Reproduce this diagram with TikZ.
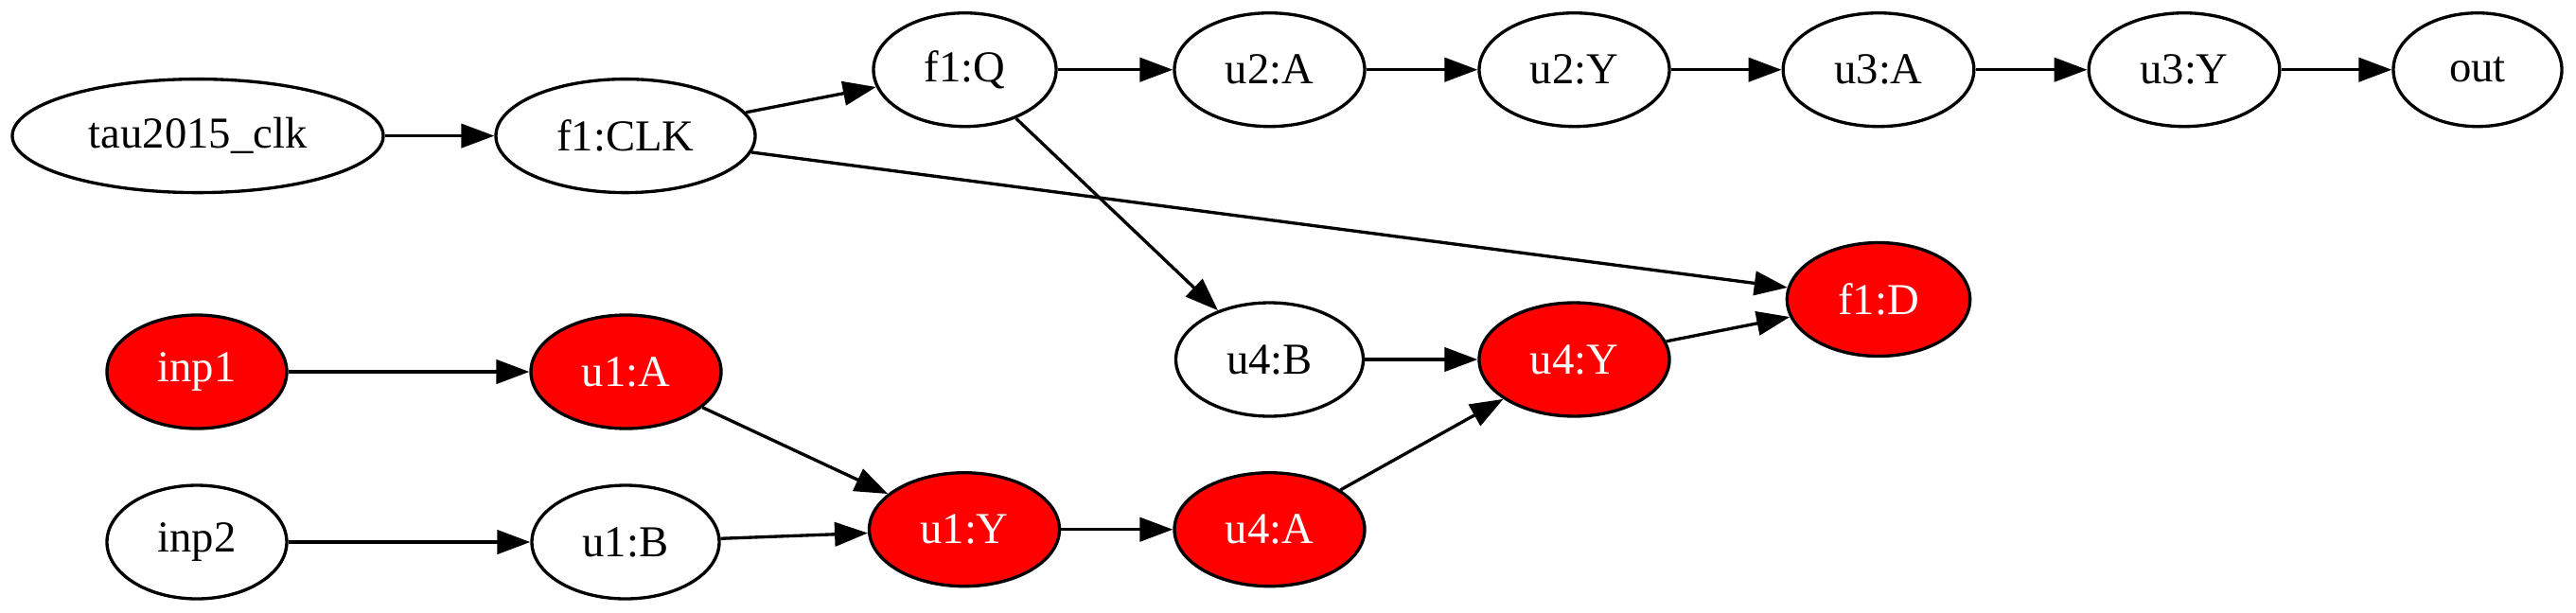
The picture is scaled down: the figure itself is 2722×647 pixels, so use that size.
\documentclass[tikz,border=0pt]{standalone}
\usepackage{fontspec}
\setmainfont{Liberation Serif}
\usetikzlibrary{shapes.geometric,arrows.meta}
\begin{document}
\begin{tikzpicture}[x=0.3pt,y=-0.3pt,
  gnode/.style={ellipse,draw=black,line width=1pt,inner sep=0pt,minimum height=36pt,font=\fontsize{14pt}{16pt}\selectfont},
  rednode/.style={gnode,fill=red,text=white},
  edge/.style={line width=1pt,-{Triangle[length=10.5pt,width=7.6pt]}}]
\useasboundingbox (0,0) rectangle (2722,647);
\node[gnode,minimum width=117.6pt] (tau) at (209,143.6) {tau2015\_clk};
\node[gnode,minimum width=82.2pt] (f1clk) at (661,143.6) {f1:CLK};
\node[gnode,minimum width=57.9pt] (f1q) at (1019.5,73.7) {f1:Q};
\node[gnode,minimum width=60.3pt] (u2a) at (1341.5,73.7) {u2:A};
\node[gnode,minimum width=60.3pt] (u2y) at (1663.5,73.7) {u2:Y};
\node[gnode,minimum width=60.5pt] (u3a) at (1985,73.7) {u3:A};
\node[gnode,minimum width=60.5pt] (u3y) at (2308,73.7) {u3:Y};
\node[gnode,minimum width=53.4pt] (out) at (2618,73.7) {out};
\node[rednode,minimum width=58pt] (f1d) at (1985,316.5) {f1:D};
\node[rednode,minimum width=57pt] (inp1) at (208,393) {inp1};
\node[rednode,minimum width=60.3pt] (u1a) at (661.5,393) {u1:A};
\node[gnode,minimum width=59.4pt] (u4b) at (1341.5,380) {u4:B};
\node[rednode,minimum width=60.3pt] (u4y) at (1663.5,380) {u4:Y};
\node[gnode,minimum width=57pt] (inp2) at (208,573) {inp2};
\node[gnode,minimum width=59.4pt] (u1b) at (661,573) {u1:B};
\node[rednode,minimum width=60.3pt] (u1y) at (1019,559.7) {u1:Y};
\node[rednode,minimum width=60.3pt] (u4a) at (1341.5,559.7) {u4:A};
\draw[edge] (tau) -- (f1clk);
\draw[edge] (f1clk) -- (f1q);
\draw[edge] (f1clk) -- (f1d);
\draw[edge] (f1q) -- (u2a);
\draw[edge] (f1q) -- (u4b);
\draw[edge] (u2a) -- (u2y);
\draw[edge] (u2y) -- (u3a);
\draw[edge] (u3a) -- (u3y);
\draw[edge] (u3y) -- (out);
\draw[edge] (inp1) -- (u1a);
\draw[edge] (inp2) -- (u1b);
\draw[edge] (u1a) -- (u1y);
\draw[edge] (u1b) -- (u1y);
\draw[edge] (u1y) -- (u4a);
\draw[edge] (u4a) -- (u4y);
\draw[edge] (u4b) -- (u4y);
\draw[edge] (u4y) -- (f1d);
\end{tikzpicture}
\end{document}
